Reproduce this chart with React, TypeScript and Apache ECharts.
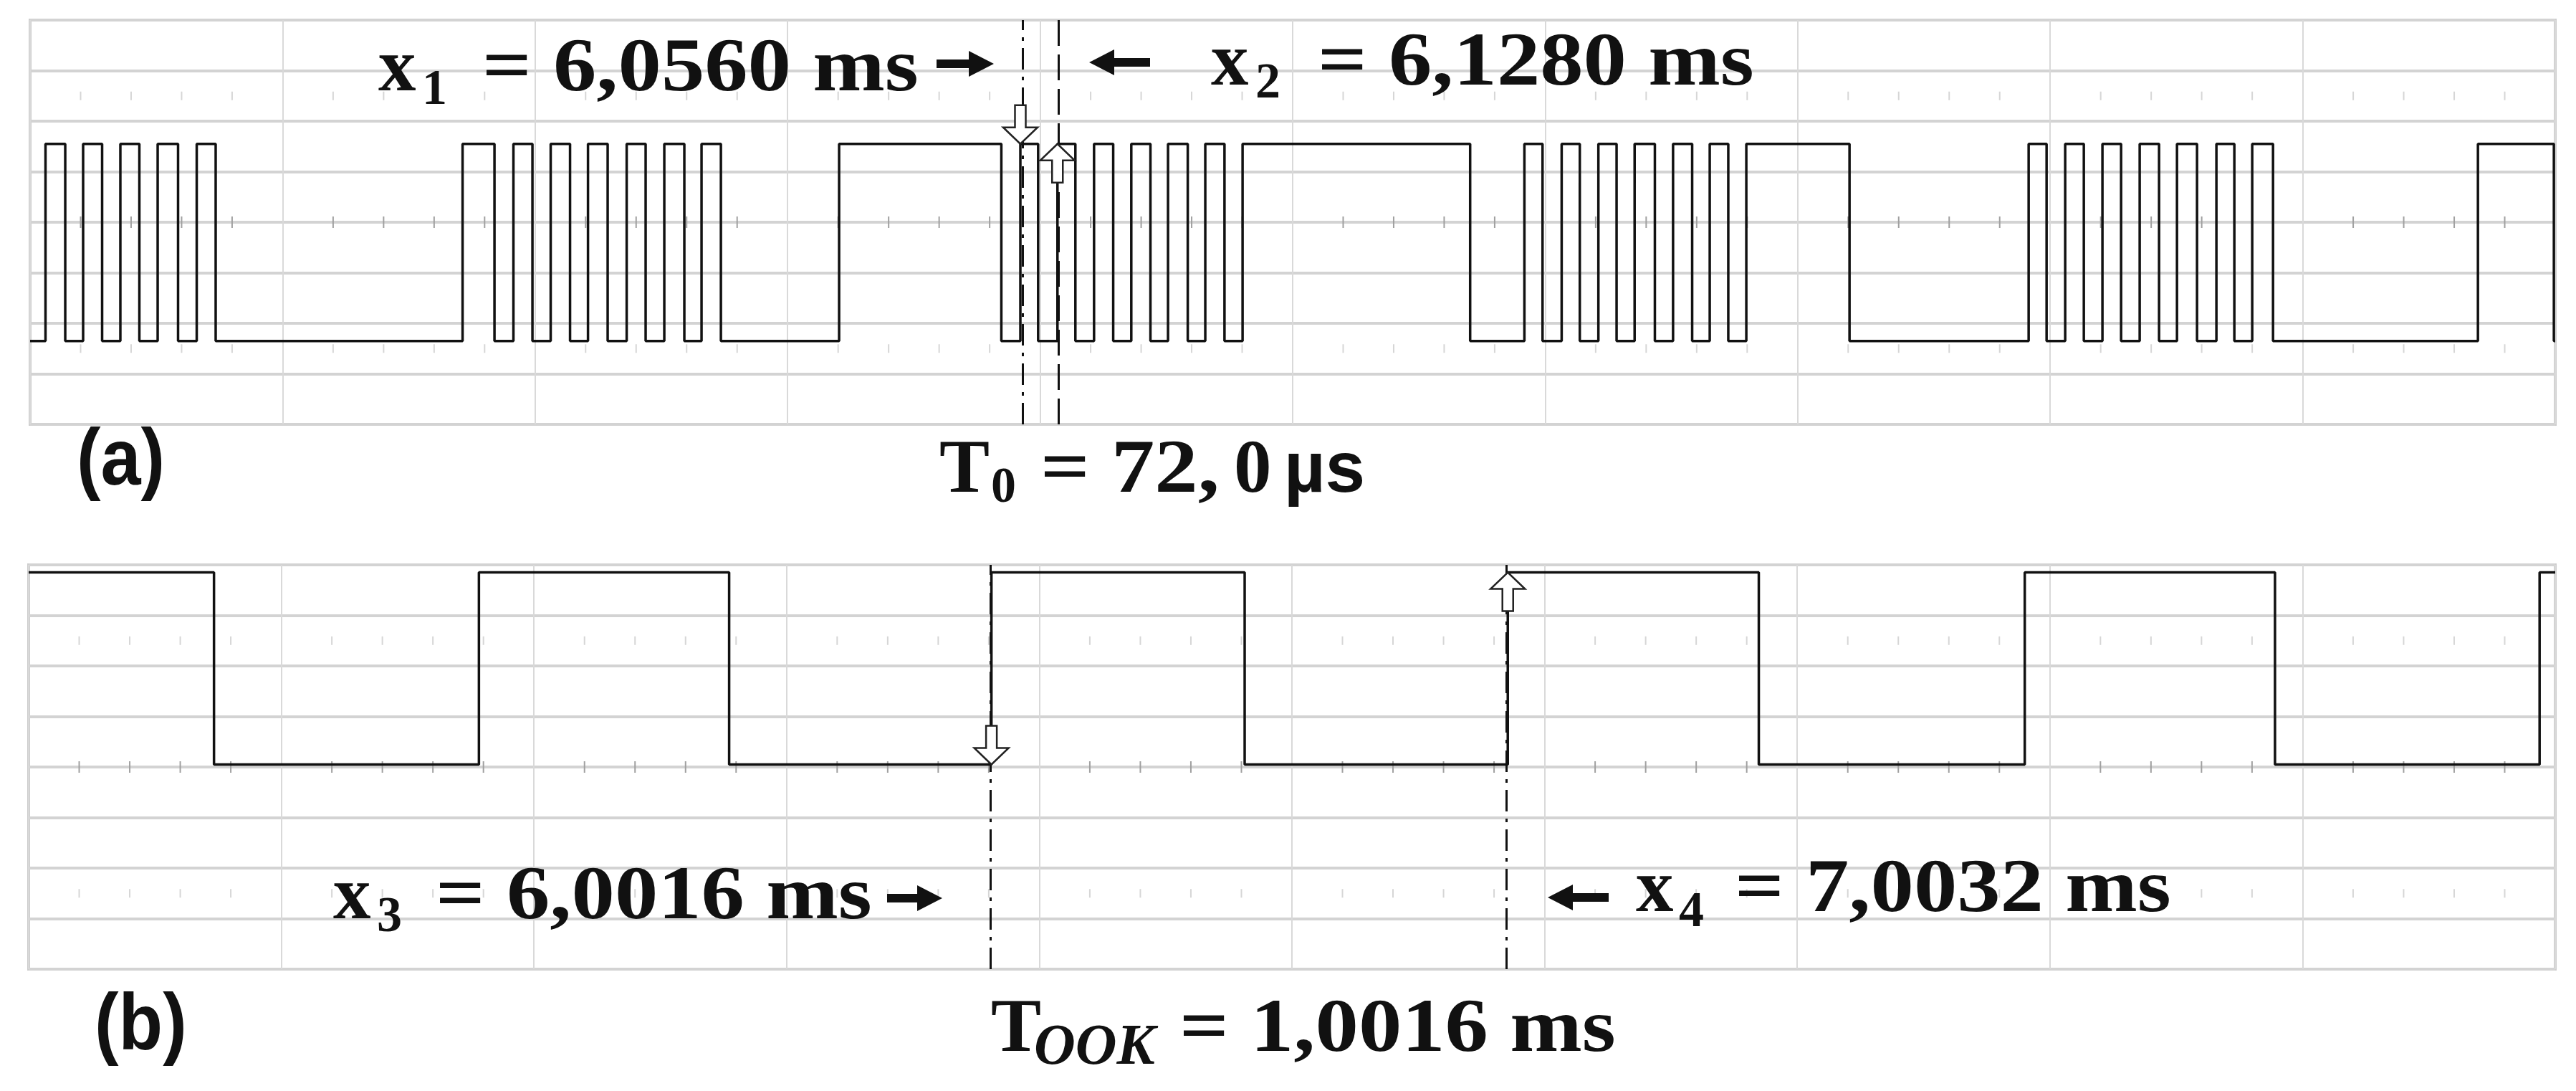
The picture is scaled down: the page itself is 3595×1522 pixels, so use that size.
import React, { useEffect, useRef } from 'react';
import * as echarts from 'echarts';

// ---- time window of both screens (ms) ----
const T_LEFT = 4.134;
const T_RIGHT = 9.035;
const DIVS_X = 10;
const HALF_DIVS_Y = 4;
const MINOR_PER_DIV = 5;

// ---- panel (a): pulse train, levels in divisions ----
const A_HIGH = 1.55;
const A_LOW = -2.35;
const A_START_HIGH = false;
const EDGES_A = [
  4.1639, 4.2022, 4.2369, 4.2738, 4.3092, 4.3461, 4.3816, 4.4212, 4.4574, 4.4942,
  4.9734, 5.0353, 5.0721, 5.109, 5.1444, 5.182, 5.2168, 5.255, 5.2919, 5.3287, 5.3649, 5.4038, 5.4372, 5.4748,
  5.7042, 6.0191, 6.056, 6.0905, 6.128, 6.1628, 6.199, 6.2362, 6.2713, 6.3085, 6.3426, 6.3809, 6.4149, 6.4522, 6.4873,
  6.929, 7.0343, 7.0695, 7.1066, 7.1418, 7.1779, 7.2132, 7.2482, 7.2875, 7.3228, 7.3599, 7.394, 7.43, 7.465,
  7.6653, 8.013, 8.0478, 8.0839, 8.1201, 8.1562, 8.1924, 8.2285, 8.2661, 8.3009, 8.3398, 8.3774, 8.4122, 8.4469, 8.4873,
  8.885, 9.0324,
];

// ---- panel (b): OOK square wave ----
const B_HIGH = 3.85;
const B_LOW = 0.05;
const B_START_HIGH = true;
const EDGES_B = [4.4935, 5.0074, 5.4928, 6.0016, 6.4928, 7.0032, 7.4901, 8.006, 8.4914, 9.0047];

// ---- cursors (ms) ----
const CURSORS_A = [6.056, 6.128];
const CURSORS_B = [6.0016, 7.0032];

function stepData(edges: number[], startHigh: boolean, high: number, low: number) {
  let cur = startHigh ? high : low;
  const pts: number[][] = [[T_LEFT, cur]];
  for (const t of edges) {
    pts.push([t, cur]);
    cur = cur === high ? low : high;
    pts.push([t, cur]);
  }
  pts.push([T_RIGHT, cur]);
  return pts;
}

const fmtMs = (v: number) => v.toFixed(4).replace('.', ',');

const DASHDOT = [30, 10, 5, 10];
const DASH = [36, 12];
const INK = '#111';

function txt(text: string, x: number, y: number, size: number, o: any = {}) {
  return {
    type: 'text',
    x,
    y,
    z: 100,
    scaleX: o.scaleX ?? 1,
    style: {
      text,
      x: 0,
      y: 0,
      fontSize: size,
      fontFamily: o.family ?? 'Liberation Serif',
      fontWeight: o.weight ?? 'bold',
      fontStyle: o.italic ? 'italic' : 'normal',
      fill: INK,
      align: 'left',
      verticalAlign: 'middle',
    },
  };
}

function arrowRight(x0: number, x1: number, cy: number) {
  const h = 35;
  return {
    type: 'polygon',
    z: 100,
    shape: {
      points: [
        [x0, cy - 6], [x1 - h, cy - 6], [x1 - h, cy - 18], [x1, cy],
        [x1 - h, cy + 18], [x1 - h, cy + 6], [x0, cy + 6],
      ],
    },
    style: { fill: INK },
  };
}
function arrowLeft(x0: number, x1: number, cy: number) {
  const h = 35;
  return {
    type: 'polygon',
    z: 100,
    shape: {
      points: [
        [x1, cy - 6], [x0 + h, cy - 6], [x0 + h, cy - 18], [x0, cy],
        [x0 + h, cy + 18], [x0 + h, cy + 6], [x1, cy + 6],
      ],
    },
    style: { fill: INK },
  };
}

export default function App() {
  const ref = useRef<HTMLDivElement>(null);

  useEffect(() => {
    if (!ref.current) return;
    const chart = echarts.init(ref.current, null, { renderer: 'svg' });

    const stepA = stepData(EDGES_A, A_START_HIGH, A_HIGH, A_LOW);
    const stepB = stepData(EDGES_B, B_START_HIGH, B_HIGH, B_LOW);

    const ticks: number[][] = [];
    for (let i = 1; i < DIVS_X * MINOR_PER_DIV; i++) {
      if (i % MINOR_PER_DIV === 0) continue;
      const d = i / MINOR_PER_DIV;
      ticks.push([d, 0, 1], [d, 2.5, 0], [d, -2.5, 0]);
    }

    const markersA = [[CURSORS_A[0], A_HIGH, 1], [CURSORS_A[1], A_HIGH, -1]];
    const markersB = [[CURSORS_B[0], B_LOW, 1], [CURSORS_B[1], B_HIGH, -1]];

    const t0 = ((CURSORS_A[1] - CURSORS_A[0]) * 1000).toFixed(1).replace('.', ', ');
    const tOok = fmtMs(CURSORS_B[1] - CURSORS_B[0]);

    const divAxis = (gridIndex: number) => ({
      gridIndex,
      type: 'value',
      min: 0,
      max: DIVS_X,
      interval: 1,
      axisLine: { show: false },
      axisTick: { show: false },
      axisLabel: { show: false },
      splitLine: { show: true, lineStyle: { color: '#d9d9d9', width: 2 } },
    });
    const timeAxis = (gridIndex: number) => ({
      gridIndex,
      type: 'value',
      min: T_LEFT,
      max: T_RIGHT,
      show: false,
    });
    const yAxis = (gridIndex: number) => ({
      gridIndex,
      type: 'value',
      min: -HALF_DIVS_Y,
      max: HALF_DIVS_Y,
      interval: 1,
      axisLine: { show: false },
      axisTick: { show: false },
      axisLabel: { show: false },
      splitLine: { show: true, lineStyle: { color: '#d3d3d3', width: 4 } },
    });

    const tickRender = (params: any, api: any) => {
      const p = api.coord([api.value(0), api.value(1)]);
      const major = api.value(2) === 1;
      const h = major ? 8 : 6;
      return {
        type: 'line',
        shape: { x1: p[0], y1: p[1] - h, x2: p[0], y2: p[1] + h },
        style: { stroke: major ? '#a0a0a0' : '#d6d6d6', lineWidth: 2 },
      };
    };
    const markerRender = (params: any, api: any) => {
      const p = api.coord([api.value(0), api.value(1)]);
      const s = api.value(2);
      const base = [[0, 0], [-24, -23], [-7.5, -23], [-7.5, -54], [7.5, -54], [7.5, -23], [24, -23]];
      return {
        type: 'polygon',
        shape: { points: base.map(([x, y]) => [p[0] + x, p[1] + y * s]) },
        style: { fill: '#fff', stroke: '#222', lineWidth: 2.5 },
      };
    };

    const signal = (data: number[][], xi: number, yi: number, cursors: number[], styles: number[][]) => ({
      type: 'line',
      xAxisIndex: xi,
      yAxisIndex: yi,
      data,
      showSymbol: false,
      symbol: 'none',
      silent: true,
      z: 5,
      lineStyle: { color: INK, width: 3.5 },
      markLine: {
        silent: true,
        symbol: ['none', 'none'],
        label: { show: false },
        lineStyle: { color: INK, width: 3 },
        data: cursors.map((c, i) => ({ xAxis: c, lineStyle: { type: styles[i], color: INK, width: 3 } })),
      },
    });

    const graphic: any[] = [
      // panel (a) labels
      txt('x', 528, 90, 105),
      txt('1', 589, 121, 70),
      txt(`= ${fmtMs(CURSORS_A[0])} ms`, 673, 90, 105, { scaleX: 1.15 }),
      arrowRight(1307, 1387, 89),
      arrowLeft(1520, 1605, 87),
      txt('x', 1690, 82, 105),
      txt('2', 1752, 112, 70),
      txt(`= ${fmtMs(CURSORS_A[1])} ms`, 1839, 82, 105, { scaleX: 1.15 }),
      txt('(a)', 107, 638, 112, { family: 'Liberation Sans', scaleX: 0.9 }),
      txt('T', 1311, 650, 105),
      txt('0', 1383, 676, 70),
      txt(`= ${t0.split(' ')[0]}`, 1452, 650, 105, { scaleX: 1.15 }),
      txt(t0.split(' ')[1], 1722, 650, 105),
      txt('µs', 1792, 651, 100, { family: 'Liberation Sans' }),
      // panel (b) labels
      txt('x', 465, 1245, 105),
      txt('3', 526, 1275, 70),
      txt(`= ${fmtMs(CURSORS_B[0])} ms`, 608, 1245, 105, { scaleX: 1.15 }),
      arrowRight(1238, 1315, 1253),
      arrowLeft(2160, 2245, 1252),
      txt('x', 2283, 1235, 105),
      txt('4', 2343, 1268, 70),
      txt(`= ${fmtMs(CURSORS_B[1])} ms`, 2421, 1235, 105, { scaleX: 1.15 }),
      txt('(b)', 132, 1426, 112, { family: 'Liberation Sans', scaleX: 0.9 }),
      txt('T', 1383, 1430, 105),
      txt('OOK', 1443, 1457, 80, { italic: true }),
      txt(`= ${tOok} ms`, 1646, 1430, 105, { scaleX: 1.15 }),
    ];

    chart.setOption({
      animation: false,
      backgroundColor: '#ffffff',
      grid: [
        { left: 42, top: 28, width: 3524, height: 564, show: true, borderColor: '#cdcdcd', borderWidth: 4, backgroundColor: 'transparent' },
        { left: 40, top: 788, width: 3526, height: 564, show: true, borderColor: '#cdcdcd', borderWidth: 4, backgroundColor: 'transparent' },
      ],
      xAxis: [timeAxis(0), divAxis(0), timeAxis(1), divAxis(1)],
      yAxis: [yAxis(0), yAxis(1)],
      series: [
        { type: 'custom', xAxisIndex: 1, yAxisIndex: 0, data: ticks, renderItem: tickRender, silent: true, z: 1 },
        { type: 'custom', xAxisIndex: 3, yAxisIndex: 1, data: ticks, renderItem: tickRender, silent: true, z: 1 },
        signal(stepA, 0, 0, CURSORS_A, [DASHDOT, DASH]),
        signal(stepB, 2, 1, CURSORS_B, [DASHDOT, DASHDOT]),
        { type: 'custom', xAxisIndex: 0, yAxisIndex: 0, data: markersA, renderItem: markerRender, silent: true, z: 10 },
        { type: 'custom', xAxisIndex: 2, yAxisIndex: 1, data: markersB, renderItem: markerRender, silent: true, z: 10 },
      ],
      graphic,
    });

    return () => chart.dispose();
  }, []);

  return (
    <div
      ref={ref}
      style={{ position: 'absolute', left: 0, top: 0, width: 3595, height: 1522, background: '#fff' }}
    />
  );
}
